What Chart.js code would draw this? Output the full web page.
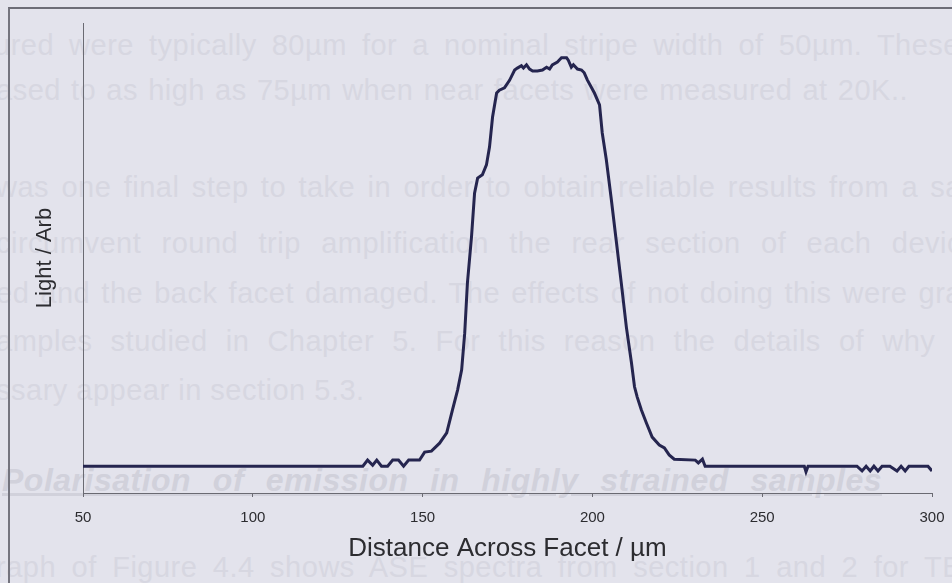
<!DOCTYPE html>
<html>
<head>
<meta charset="utf-8">
<script src="https://cdn.jsdelivr.net/npm/chart.js@4.4.1/dist/chart.umd.min.js"></script>
<style>
    html, body {
        margin: 0;
        padding: 0;
        background: #e3e3ec;
        overflow: hidden;
    }

    #page {
        position: relative;
        width: 952px;
        height: 583px;
        overflow: hidden;
        font-family: "Liberation Sans", Arial, sans-serif;
    }

    .ghost {
        position: absolute;
        font-size: 29px;
        letter-spacing: 0.5px;
        color: #d7d7e1;
        text-align: justify;
        text-align-last: justify;
        line-height: 32px;
        white-space: nowrap;
    }

    .ghost.heading {
        font-size: 32px;
        font-weight: bold;
        font-style: italic;
        text-decoration: underline;
        color: #d1d1db;
    }

    #frame {
        position: absolute;
        left: 8px;
        top: 7px;
        width: 1000px;
        height: 1000px;
        border-top: 2px solid #6c6c76;
        border-left: 2px solid #74747e;
    }

    #chart {
        position: absolute;
        left: 0;
        top: 0;
    }
</style>
</head>
<body>
<div id="page">
    <div class="ghost" style="left:-6px; top:29px; width:966px;">ured were typically 80µm for a nominal stripe width of 50µm. These</div>
    <div class="ghost" style="left:-4px; top:74px; width:912px;">ased to as high as 75µm when near facets were measured at 20K..</div>
    <div class="ghost" style="left:-4px; top:171px; width:966px;">was one final step to take in order to obtain reliable results from a sa</div>
    <div class="ghost" style="left:-4px; top:227px; width:966px;">circumvent round trip amplification the rear section of each devic</div>
    <div class="ghost" style="left:-4px; top:277px; width:966px;">ed and the back facet damaged. The effects of not doing this were gra</div>
    <div class="ghost" style="left:-4px; top:325px; width:966px;">amples studied in Chapter 5. For this reason the details of why t</div>
    <div class="ghost" style="left:-4px; top:374px; width:340px; text-align:left; text-align-last:left;">ssary appear in section 5.3.</div>
    <div class="ghost heading" style="left:2px; top:464px; width:880px;">Polarisation of emission in highly strained samples</div>
    <div class="ghost" style="left:-4px; top:551px; width:966px;">raph of Figure 4.4 shows ASE spectra from section 1 and 2 for TE</div>
    <div id="frame"></div>
    <canvas id="chart" width="952" height="583"></canvas>
</div>

<script>
// near-field profile (x in µm, light in arbitrary units 0-100)
const distance = [
    50, 132.4, 133.8, 135.3, 136.5, 137.9, 139.7, 141.2, 142.9, 144.4,
    145.9, 149.1, 150.6, 152.6, 155.0, 157.1, 158.8, 160.3, 161.5, 162.4,
    163.2, 164.4, 165.3, 166.2, 167.6, 168.8, 169.7, 170.6, 171.8, 172.6,
    174.1, 175.6, 177.1, 177.9, 179.1, 179.7, 180.6, 181.5, 182.4, 183.8,
    185.3, 186.5, 187.4, 188.2, 189.7, 190.9, 192.4, 192.9, 193.8, 194.4,
    195.6, 196.8, 197.6, 198.5, 200.6, 202.1, 202.9, 204.1, 205.6, 207.1,
    208.5, 210.0, 211.5, 212.4, 213.2, 214.4, 215.9, 217.6, 219.7, 221.2,
    222.6, 224.1, 230.3, 231.2, 232.4, 233.2, 262.4, 262.9, 263.5, 277.9,
    279.4, 280.6, 281.8, 282.9, 284.1, 285.3, 287.6, 289.7, 290.9, 292.1,
    293.2, 298.8, 300,
];

const light = [
    5.7, 5.7, 7.0, 5.9, 7.0, 5.7, 5.7, 7.0, 7.0, 5.7,
    7.0, 7.0, 8.7, 8.9, 10.6, 12.8, 17.7, 21.9, 26.2, 34.0,
    44.7, 54.5, 63.8, 67.0, 67.7, 69.8, 73.6, 80.0, 85.1, 85.7,
    86.2, 87.8, 90.0, 90.4, 90.9, 90.4, 91.1, 90.2, 89.8, 89.8,
    90.0, 90.6, 90.2, 91.1, 91.7, 92.6, 92.6, 92.1, 90.6, 91.1,
    90.2, 90.0, 89.4, 87.9, 85.1, 82.6, 76.6, 70.9, 62.3, 53.2,
    44.7, 35.3, 27.7, 22.6, 20.4, 17.7, 14.9, 11.9, 10.2, 9.6,
    8.1, 7.2, 7.0, 6.4, 7.2, 5.7, 5.7, 4.5, 5.7, 5.7,
    4.7, 5.7, 4.7, 5.7, 4.7, 5.7, 5.7, 4.7, 5.7, 4.7,
    5.7, 5.7, 4.7,
];

const xTicks = [50, 100, 150, 200, 250, 300];

const COLORS = {
    line: '#25254f',
    axis: '#6a6a72',
    text: '#2c2c30',
};

const FONT = '"Liberation Sans", Arial, sans-serif';

const points = distance.map((x, i) => ({ x, y: light[i] }));

new Chart(document.getElementById('chart').getContext('2d'), {
    type: 'line',
    data: {
        datasets: [{
            data: points,
            borderColor: COLORS.line,
            borderWidth: 3,
            pointRadius: 0,
            tension: 0,
            fill: false,
        }],
    },
    options: {
        responsive: false,
        animation: false,
        layout: {
            padding: { left: 32, top: 23, right: 20, bottom: 19 },
        },
        plugins: {
            legend: { display: false },
            tooltip: { enabled: false },
        },
        scales: {
            x: {
                type: 'linear',
                min: 50,
                max: 300,
                afterBuildTicks(scale) {
                    scale.ticks = xTicks.map((value) => ({ value }));
                },
                afterFit(scale) {
                    scale.height = 71;
                    scale.paddingLeft = 0;
                    scale.paddingRight = 0;
                },
                ticks: {
                    color: COLORS.text,
                    font: { family: FONT, size: 15 },
                    padding: 12,
                    maxRotation: 0,
                },
                grid: {
                    drawOnChartArea: false,
                    drawTicks: true,
                    tickLength: 4,
                    color: COLORS.axis,
                },
                border: {
                    color: COLORS.axis,
                    width: 1,
                },
                title: {
                    display: true,
                    text: 'Distance Across Facet / µm',
                    color: COLORS.text,
                    font: { family: FONT, size: 26 },
                    padding: 0,
                },
            },
            y: {
                min: 0,
                max: 100,
                afterFit(scale) {
                    scale.width = 51;
                },
                ticks: { display: false },
                grid: { display: false },
                border: {
                    color: COLORS.axis,
                    width: 1,
                },
                title: {
                    display: true,
                    text: 'Light / Arb',
                    color: COLORS.text,
                    font: { family: FONT, size: 22 },
                    padding: 0,
                },
            },
        },
    },
});
</script>
</body>
</html>
